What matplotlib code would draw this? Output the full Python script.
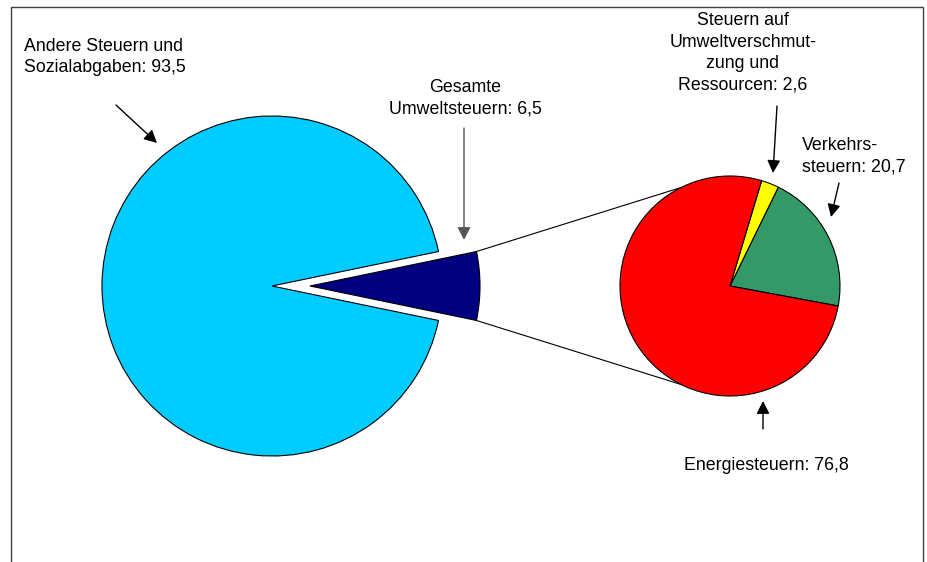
import numpy as np
import matplotlib
matplotlib.use("Agg")
import matplotlib.pyplot as plt
from matplotlib.patches import FancyArrowPatch, Rectangle

plt.rcParams['font.family'] = ['Liberation Sans', 'DejaVu Sans']

# Data
main_labels = ["Gesamte\nUmweltsteuern: 6,5", "Andere Steuern und\nSozialabgaben: 93,5"]
main_values = [6.5, 93.5]
main_colors = ["#000080", "#00CCFF"]

sub_labels = ["Verkehrs-\nsteuern: 20,7",
              "Steuern auf\nUmweltverschmut-\nzung und\nRessourcen: 2,6",
              "Energiesteuern: 76,8"]
sub_values = [20.7, 2.6, 76.8]
sub_colors = ["#339966", "#FFFF00", "#FF0000"]

W, H = 927, 562
fig = plt.figure(figsize=(W / 100, H / 100), dpi=100)
ax = fig.add_axes([0, 0, 1, 1])

def Y(py):
    return H - py

# frame
ax.add_patch(Rectangle((11, Y(700)), 912, 700 - 7, fill=False,
                       edgecolor="#404040", linewidth=1.0, zorder=0))

# main pie
big_c = (272, Y(286))
big_r = 170
wedges, _ = ax.pie(main_values, colors=main_colors, startangle=-main_values[0] * 1.8,
                   center=big_c, radius=big_r, explode=[38, 0],
                   wedgeprops=dict(edgecolor="black", linewidth=0.8))

# sub pie
small_c = (730, Y(286))
small_r = 110
ax.pie(sub_values, colors=sub_colors, startangle=-10.5, center=small_c, radius=small_r,
       wedgeprops=dict(edgecolor="black", linewidth=0.8))

# connector lines
nw = wedges[0]
cx, cy = nw.center
for th, ang in ((nw.theta2, 116.5), (nw.theta1, -116.5)):
    x0 = cx + nw.r * np.cos(np.radians(th))
    y0 = cy + nw.r * np.sin(np.radians(th))
    x1 = small_c[0] + small_r * np.cos(np.radians(ang))
    y1 = small_c[1] + small_r * np.sin(np.radians(ang))
    ax.plot([x0, x1], [y0, y1], color="black", linewidth=0.8)

ax.set_xlim(0, W)
ax.set_ylim(0, H)
ax.set_aspect("equal")
ax.set_axis_off()

fs = 12.8
ls = 1.35

def arrow(p0, p1, color="black"):
    a = FancyArrowPatch((p0[0], Y(p0[1])), (p1[0], Y(p1[1])),
                        arrowstyle="-|>,head_length=0.55,head_width=0.28",
                        mutation_scale=14, color=color, linewidth=1.0,
                        shrinkA=0, shrinkB=0)
    ax.add_patch(a)

# labels
ax.text(24, Y(57), main_labels[1], fontsize=fs, ha="left", va="center",
        linespacing=ls, multialignment="left")
arrow((116, 105), (157, 143))

ax.text(465, Y(98), main_labels[0], fontsize=fs, ha="center", va="center",
        linespacing=ls, multialignment="center")
arrow((464, 128), (464, 240), color="#555555")

ax.text(743, Y(53), sub_labels[1], fontsize=fs, ha="center", va="center",
        linespacing=ls, multialignment="center")
arrow((777, 106), (773, 173))

ax.text(802, Y(156), sub_labels[0], fontsize=fs, ha="left", va="center",
        linespacing=ls, multialignment="left")
arrow((839, 183), (831, 217))

ax.text(766, Y(466), sub_labels[2], fontsize=fs, ha="center", va="center")
arrow((763, 429), (763, 401))

fig.savefig("out.png", dpi=100, facecolor="white")
